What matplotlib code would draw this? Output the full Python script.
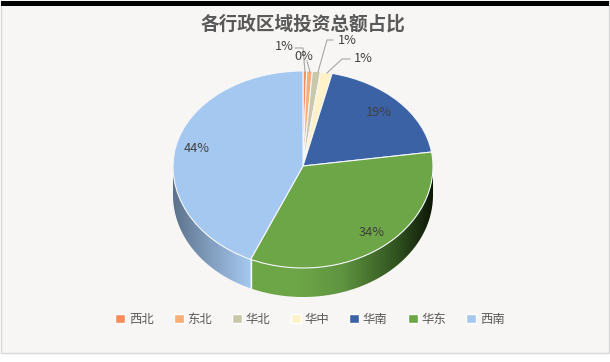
import numpy as np
import matplotlib
matplotlib.use("Agg")
import matplotlib.pyplot as plt
from matplotlib.colors import LinearSegmentedColormap
from matplotlib.patches import Patch, Rectangle, Polygon

plt.rcParams['font.family'] = ['Noto Sans CJK SC', 'DejaVu Sans']

title = "各行政区域投资总额占比"
categories = ["西北", "东北", "华北", "华中", "华南", "华东", "西南"]
values = [0.45, 0.7, 1.0, 1.45, 19.05, 33.95, 43.4]
pct_labels = ["1%", "0%", "1%", "1%", "19%", "34%", "44%"]
colors = ["#FF8B58", "#F9AE76", "#C9C8A8", "#FFF2C8", "#3B62A5", "#6DA646", "#A5C8F0"]

BG = "#F8F6F4"
W, H = 610, 362
CX, CY, RX, R_TOP, R_BOT, DEPTH = 303, 166, 130, 95, 102, 29

fig = plt.figure(figsize=(W / 100, H / 100), dpi=100, facecolor="white")

bg = fig.add_axes([0, 0, 1, 1], zorder=0)
bg.set_xlim(0, W); bg.set_ylim(H, 0); bg.axis("off")
bg.add_patch(Rectangle((1, 1), W - 2, 352, fc=BG, ec="#D9D9D9", lw=1))
bg.add_patch(Rectangle((1, 1), W - 2, 4.5, fc="black", ec="none"))

# side wall of the tilted pie, in a linear axes scaled to the near half
axw = fig.add_axes([0, 0, 1, 1], zorder=1)
axw.patch.set_alpha(0)
d = DEPTH / R_BOT
fr = np.cumsum(values) / np.sum(values)
a_bound = np.pi / 2 - 2 * np.pi * fr[5]


def wall(a0, a1, cols, stops):
    t = np.linspace(a0, a1, 120)
    xs, ys = np.cos(t), np.sin(t)
    poly = np.r_[np.c_[xs, ys], np.c_[xs[::-1], ys[::-1] - d]]
    cmap = LinearSegmentedColormap.from_list("w", list(zip(stops, cols)))
    grad = np.linspace(0, 1, 256)[None, :]
    im = axw.imshow(grad, cmap=cmap, extent=(xs.min(), xs.max(), -1 - d, 0.05),
                    aspect="auto", zorder=2)
    p = Polygon(poly, transform=axw.transData, fc="none", ec="none")
    axw.add_patch(p)
    im.set_clip_path(p)


wall(-np.pi, a_bound, ["#5C728C", "#7F9BBB", "#A5C8F0"], [0, 0.45, 1])
wall(a_bound, 0, ["#6DA646", "#6DA646", "#5F9440", "#30521F", "#0C1506"],
     [0, 0.25, 0.5, 0.8, 1])
xb, yb = np.cos(a_bound), np.sin(a_bound)
axw.plot([xb, xb], [yb, yb - d], color="#F4F7FB", lw=1, zorder=3)
axw.set_xlim(-CX / RX, (W - CX) / RX)
axw.set_ylim((CY - H) / R_BOT, CY / R_BOT)
axw.axis("off")

# pie: the far half is foreshortened through a piecewise y scale
ax = fig.add_axes([0, 0, 1, 1], zorder=2)
ax.patch.set_alpha(0)
ax.pie(values, colors=colors, startangle=90, counterclock=False, radius=1,
       wedgeprops=dict(edgecolor="#F4F7FB", linewidth=0.8))
ax.set_aspect("auto")


def to_px(y):
    y = np.asarray(y, dtype=float)
    return np.where(y > 0, y * R_TOP, y * R_BOT)


def from_px(v):
    v = np.asarray(v, dtype=float)
    return np.where(v > 0, v / R_TOP, v / R_BOT)


ax.set_yscale("function", functions=(to_px, from_px))
ax.set_xlim(-CX / RX, (W - CX) / RX)
ax.set_ylim((CY - H) / R_BOT, CY / R_TOP)
ax.axis("off")

ov = fig.add_axes([0, 0, 1, 1], zorder=3)
ov.patch.set_alpha(0)
ov.set_xlim(0, W); ov.set_ylim(H, 0); ov.axis("off")

ov.text(303.5, 24, title, ha="center", va="center", fontsize=13.4,
        fontweight="bold", color="#595959")

label_xy = [(284, 47), (304, 56), (347, 41), (363, 59), (379, 113), (372, 233), (197, 149)]
for s, (x, y) in zip(pct_labels, label_xy):
    ov.text(x, y, s, ha="center", va="center", fontsize=9.2, color="#404040")

leaders = [[(295, 48), (303, 48), (305, 72)],
           [(307, 61), (310, 72)],
           [(333, 40), (327, 40), (318, 72)],
           [(350, 59), (342, 59), (327, 73)]]
for pts in leaders:
    xs, ys = zip(*pts)
    ov.plot(xs, ys, color="#A6A6A6", lw=0.8)

handles = [Patch(fc=c, ec="white", lw=1.0) for c in colors]
leg = ov.legend(handles, categories, ncol=7, loc="center", frameon=False,
                bbox_to_anchor=(310 / W, 1 - 319 / H), fontsize=8.9,
                handlelength=0.78, handleheight=0.78, handletextpad=0.3,
                columnspacing=1.65, labelcolor="#595959")

fig.savefig("out.png", dpi=100, facecolor="white")
